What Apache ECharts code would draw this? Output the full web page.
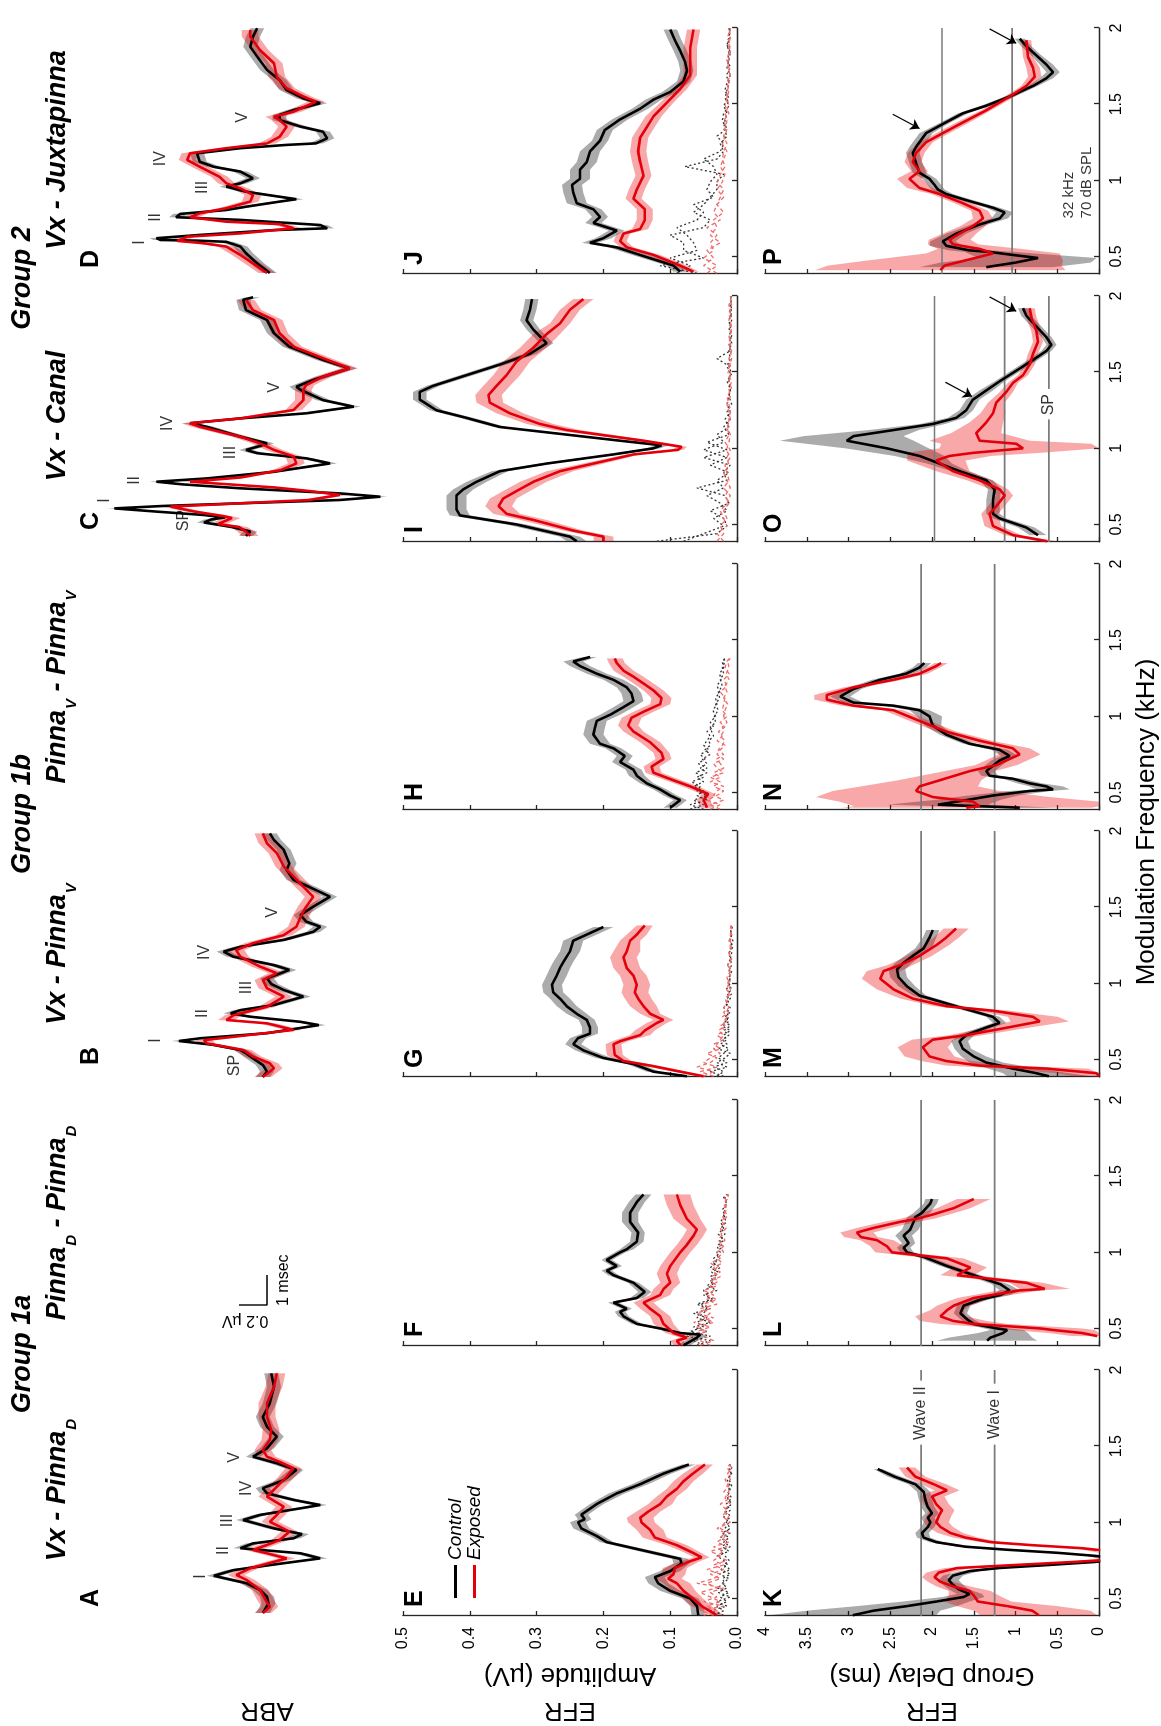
<!DOCTYPE html>
<html>
<head>
<meta charset="utf-8">
<script src="https://cdn.jsdelivr.net/npm/echarts@6/dist/echarts.min.js"></script>
<style>
  html, body { margin: 0; padding: 0; background: #fff; overflow: hidden; }
  #wrap { position: absolute; left: 0; top: 0; width: 1161px; height: 1726px; overflow: hidden; }
  /* the figure is laid out upright (1726 x 1161) and turned a quarter turn counter-clockwise */
  #chart-container { position: absolute; left: 0; top: 0; width: 1726px; height: 1161px;
    transform-origin: 0 0; transform: translate(0px, 1726px) rotate(-90deg); }
</style>
</head>
<body>
<div id="wrap"><div id="chart-container"></div></div>
<script>
// ---------- ABR waveforms: [time (ms), amplitude (uV)] ----------
var ABR_A_CTRL = [[0,.03],[.32,-.01],[.54,0],[.77,.05],[.99,.145],[1.24,.38],[1.43,.24],[1.66,-.12],[1.82,-.38],[1.99,-.24],[2.16,.19],[2.32,.1],[2.49,-.19],[2.63,-.25],[2.82,-.05],[3.1,.17],[3.27,.05],[3.49,-.24],[3.6,-.38],[3.77,-.19],[3.99,0],[4.16,.03],[4.43,-.12],[4.77,-.21],[4.99,-.07],[5.21,.1],[5.49,0],[5.88,-.07],[6.21,0],[6.54,.03],[6.99,-.02],[7.54,-.05],[7.99,-.03]];
var ABR_A_EXP = [[0,.03],[.21,-.02],[.43,.01],[.77,.05],[1.1,.145],[1.27,.22],[1.49,.12],[1.82,-.14],[1.99,0],[2.1,.1],[2.27,0],[2.43,-.09],[2.71,-.16],[2.88,-.09],[3.04,-.02],[3.27,-.07],[3.54,-.12],[3.88,0],[4.21,-.07],[4.54,-.14],[4.82,-.19],[5.04,-.09],[5.21,0],[5.43,.03],[5.77,-.02],[6.1,-.03],[6.54,0],[6.99,0],[7.54,-.05],[7.99,-.07]];
var ABR_B_CTRL = [[0,.03],[.18,0],[.4,.03],[.62,.1],[.79,.15],[.9,.19],[1.07,.38],[1.2,.63],[1.29,.48],[1.46,0],[1.73,-.37],[1.84,-.24],[2.01,.12],[2.12,.26],[2.23,.19],[2.4,-.05],[2.68,-.26],[2.9,-.12],[3.1,-.03],[3.29,0],[3.57,-.16],[3.73,-.05],[4.01,.24],[4.18,.31],[4.34,.19],[4.57,-.12],[4.84,-.33],[5.01,-.38],[5.18,-.28],[5.4,-.24],[5.62,-.31],[6.01,-.45],[6.23,-.35],[6.57,-.19],[6.9,-.14],[7.12,-.16],[7.57,-.12],[7.9,-.05],[8.12,-.02]];
var ABR_B_EXP = [[0,.03],[.29,-.05],[.46,-.02],[.68,.1],[.9,.17],[1.12,.43],[1.23,.45],[1.34,.24],[1.57,-.19],[1.79,0],[1.9,.29],[2.06,.24],[2.34,0],[2.68,-.12],[2.96,0],[3.23,.03],[3.46,-.07],[3.68,.05],[4.01,.19],[4.23,.22],[4.46,.1],[4.73,-.12],[5.01,-.21],[5.34,-.24],[5.68,-.28],[6.01,-.33],[6.34,-.26],[6.68,-.19],[7.01,-.12],[7.46,-.07],[7.79,0],[8.12,.03]];
var ABR_C_CTRL = [[0,.15],[.15,.12],[.3,.25],[.45,.45],[.55,.4],[.62,.3],[.7,.45],[.8,.75],[.92,1.09],[1.0,.75],[1.09,.19],[1.2,-.52],[1.31,-.81],[1.42,-.52],[1.59,.19],[1.72,.6],[1.81,.79],[1.92,.43],[2.14,-.05],[2.42,-.45],[2.59,-.28],[2.76,.07],[2.87,.15],[3.0,.05],[3.09,0],[3.31,.19],[3.64,.43],[3.76,.55],[3.92,.19],[4.09,-.28],[4.31,-.62],[4.53,-.4],[4.87,-.24],[4.98,-.21],[5.2,-.33],[5.59,-.59],[5.87,-.4],[6.31,-.16],[6.76,-.05],[7.2,0],[7.53,.15],[7.87,.17],[7.96,.1]];
var ABR_C_EXP = [[0,.12],[.15,.15],[.3,.2],[.4,.35],[.5,.3],[.6,.25],[.67,.32],[.8,.5],[.98,.69],[1.09,.19],[1.2,-.3],[1.37,-.52],[1.5,-.3],[1.62,-.05],[1.81,.55],[1.95,.19],[2.2,-.1],[2.42,-.21],[2.65,-.19],[2.87,-.05],[3.09,.05],[3.31,.19],[3.64,.48],[3.76,.55],[3.92,.19],[4.2,-.19],[4.53,-.26],[4.87,-.26],[5.03,-.28],[5.31,-.4],[5.59,-.59],[5.87,-.43],[6.31,-.19],[6.76,-.09],[7.2,-.05],[7.53,.1],[7.87,.15]];
var ABR_D_CTRL = [[0,-.02],[.32,.07],[.66,.15],[.88,.19],[1.04,.29],[1.08,.5],[1.1,.76],[1.16,.79],[1.27,.48],[1.43,-.05],[1.49,-.43],[1.6,-.38],[1.77,.19],[1.86,.65],[1.97,.62],[2.1,.29],[2.21,.15],[2.38,-.09],[2.46,-.21],[2.57,-.05],[2.71,.15],[2.88,.29],[2.99,.19],[3.16,.1],[3.38,.19],[3.54,.38],[3.71,.48],[3.99,.5],[4.16,.19],[4.27,-.14],[4.32,-.35],[4.49,-.43],[4.71,-.4],[4.88,-.24],[5.1,-.09],[5.27,-.09],[5.43,-.19],[5.66,-.38],[5.82,-.26],[6.1,-.14],[6.43,-.09],[6.77,0],[7.21,.07],[7.54,.12],[7.88,.1],[8.16,.07]];
var ABR_D_EXP = [[0,0],[.32,.1],[.6,.19],[.88,.29],[.99,.45],[1.07,.64],[1.21,.57],[1.32,.19],[1.49,-.19],[1.63,-.09],[1.71,.29],[1.86,.55],[1.99,.48],[2.16,.29],[2.38,.12],[2.6,.1],[2.82,.19],[2.99,.29],[3.21,.34],[3.54,.48],[3.77,.57],[3.99,.55],[4.16,.29],[4.32,0],[4.54,-.09],[4.88,-.14],[5.1,-.09],[5.21,-.05],[5.38,-.19],[5.71,-.35],[5.88,-.26],[6.16,-.14],[6.54,-.07],[6.99,-.05],[7.43,.05],[7.88,.12],[8.1,.12]];
var ABR_BAND_CTRL = 0.05, ABR_BAND_EXP = 0.06;

// wave labels: [time, amplitude, text]
var ABR_A_LABELS = [[1.23,.47,'I'],[2.1,.31,'II'],[3.1,.28,'III'],[4.17,.14,'IV'],[5.2,.23,'V']];
var ABR_B_LABELS = [[.4,.23,'SP'],[1.23,.79,'I'],[2.13,.46,'II'],[3.0,.14,'III'],[4.17,.44,'IV'],[5.5,-.04,'V']];
var ABR_C_LABELS = [[.53,.59,'SP'],[1.2,1.16,'I'],[1.87,.94,'II'],[2.8,.26,'III'],[3.77,.71,'IV'],[4.97,-.06,'V']];
var ABR_D_LABELS = [[1.03,.91,'I'],[1.87,.79,'II'],[2.87,.46,'III'],[3.83,.76,'IV'],[5.2,.17,'V']];
var SCALE_BAR = { uV: 0.2, ms: 1 };

// ---------- EFR amplitude: [kHz, uV, s.e.] ----------
var AMP_E_CTRL = [[.39,.058,.01],[.45,.06,.01],[.5,.07,.012],[.55,.1,.015],[.6,.118,.015],[.64,.123,.015],[.68,.1,.015],[.73,.083,.012],[.76,.085,.012],[.81,.135,.012],[.87,.195,.01],[.91,.21,.01],[.96,.233,.012],[1.0,.238,.012],[1.02,.228,.01],[1.05,.233,.01],[1.12,.21,.01],[1.19,.18,.012],[1.25,.145,.012],[1.32,.11,.012],[1.38,.072,.01]];
var AMP_E_EXP = [[.39,.03,.01],[.45,.053,.015],[.5,.066,.015],[.55,.08,.018],[.6,.09,.02],[.63,.103,.02],[.66,.095,.018],[.7,.093,.018],[.74,.073,.015],[.77,.053,.012],[.8,.066,.012],[.85,.09,.015],[.9,.123,.018],[.95,.13,.02],[1.0,.143,.02],[1.03,.145,.02],[1.07,.133,.018],[1.12,.115,.018],[1.17,.105,.015],[1.22,.09,.015],[1.27,.08,.015],[1.32,.066,.015],[1.38,.048,.012]];
var AMP_F_CTRL = [[.39,.08,.01],[.44,.06,.01],[.46,.055,.008],[.47,.085,.008],[.5,.115,.008],[.53,.15,.008],[.58,.17,.008],[.61,.175,.008],[.63,.165,.008],[.67,.185,.008],[.7,.15,.01],[.74,.138,.01],[.8,.155,.008],[.85,.185,.008],[.88,.195,.008],[.91,.18,.008],[.95,.195,.008],[1.0,.175,.008],[1.02,.165,.01],[1.07,.15,.01],[1.13,.148,.01],[1.2,.16,.012],[1.26,.16,.012],[1.33,.15,.012],[1.38,.14,.012]];
var AMP_F_EXP = [[.39,.085,.01],[.42,.09,.01],[.44,.075,.01],[.47,.095,.012],[.53,.11,.015],[.58,.115,.015],[.63,.13,.015],[.67,.14,.015],[.72,.115,.015],[.76,.11,.015],[.8,.1,.015],[.86,.105,.015],[.91,.1,.015],[1.0,.085,.015],[1.05,.075,.015],[1.11,.065,.015],[1.15,.06,.015],[1.22,.075,.02],[1.31,.085,.02],[1.38,.09,.02]];
var AMP_G_CTRL = [[.39,.075,.01],[.42,.125,.01],[.47,.155,.01],[.51,.2,.012],[.56,.23,.012],[.6,.245,.012],[.64,.238,.012],[.67,.22,.012],[.71,.22,.012],[.76,.225,.012],[.8,.24,.015],[.85,.255,.015],[.9,.265,.015],[.94,.275,.015],[.99,.277,.015],[1.05,.27,.015],[1.1,.265,.015],[1.14,.26,.015],[1.21,.25,.015],[1.28,.245,.015],[1.32,.225,.015],[1.37,.2,.015]];
var AMP_G_EXP = [[.39,.05,.008],[.42,.085,.01],[.46,.13,.012],[.49,.17,.012],[.53,.183,.012],[.6,.185,.012],[.62,.175,.012],[.66,.145,.015],[.69,.138,.015],[.74,.12,.015],[.76,.11,.015],[.8,.13,.015],[.85,.14,.02],[.9,.148,.02],[.94,.153,.02],[.99,.15,.02],[1.05,.155,.02],[1.1,.165,.02],[1.17,.17,.02],[1.21,.165,.02],[1.28,.16,.015],[1.32,.15,.015],[1.38,.138,.012]];
var AMP_H_CTRL = [[.4,.1,.01],[.45,.085,.01],[.48,.1,.01],[.52,.115,.01],[.56,.135,.01],[.61,.15,.012],[.65,.155,.012],[.7,.175,.012],[.74,.168,.012],[.79,.185,.012],[.82,.205,.015],[.88,.215,.015],[.92,.213,.015],[.97,.21,.015],[1.01,.19,.015],[1.06,.17,.015],[1.1,.155,.015],[1.15,.158,.015],[1.19,.165,.015],[1.24,.185,.015],[1.28,.21,.015],[1.33,.235,.015],[1.36,.245,.015],[1.39,.22,.01]];
var AMP_H_EXP = [[.4,.045,.01],[.45,.05,.01],[.49,.043,.01],[.54,.07,.012],[.58,.095,.012],[.63,.125,.012],[.67,.128,.012],[.72,.11,.012],[.76,.113,.012],[.83,.13,.015],[.9,.155,.015],[.94,.163,.015],[.99,.158,.015],[1.03,.14,.015],[1.08,.115,.015],[1.12,.113,.015],[1.17,.125,.015],[1.21,.138,.015],[1.26,.155,.015],[1.3,.17,.015],[1.35,.18,.012],[1.38,.183,.012]];
var AMP_I_CTRL = [[.39,.24,.015],[.42,.25,.015],[.5,.33,.015],[.56,.415,.015],[.6,.42,.015],[.64,.42,.015],[.69,.42,.015],[.73,.41,.015],[.78,.39,.015],[.85,.355,.012],[.9,.285,.01],[.96,.185,.01],[1.0,.125,.01],[1.02,.113,.01],[1.05,.175,.01],[1.1,.275,.01],[1.14,.355,.01],[1.2,.405,.01],[1.25,.45,.01],[1.32,.475,.01],[1.37,.475,.01],[1.41,.455,.01],[1.48,.405,.01],[1.55,.355,.01],[1.62,.31,.01],[1.69,.285,.01],[1.78,.305,.01],[1.84,.315,.01],[1.91,.31,.01],[1.98,.307,.01]];
var AMP_I_EXP = [[.39,.2,.015],[.42,.2,.015],[.46,.245,.015],[.53,.305,.02],[.57,.345,.02],[.62,.357,.02],[.67,.35,.02],[.72,.33,.02],[.78,.305,.02],[.85,.265,.02],[.91,.205,.015],[.96,.155,.01],[.99,.088,.008],[1.01,.083,.008],[1.05,.14,.012],[1.12,.255,.02],[1.16,.295,.02],[1.23,.34,.02],[1.3,.37,.02],[1.35,.372,.02],[1.41,.36,.02],[1.48,.345,.02],[1.57,.33,.02],[1.66,.305,.02],[1.75,.285,.02],[1.82,.265,.015],[1.91,.25,.015],[1.98,.23,.015]];
var AMP_J_CTRL = [[.4,.085,.01],[.44,.095,.01],[.51,.145,.012],[.56,.18,.012],[.59,.22,.012],[.62,.2,.012],[.67,.18,.012],[.72,.215,.012],[.76,.205,.012],[.81,.215,.012],[.85,.24,.015],[.92,.245,.015],[.97,.247,.015],[1.01,.235,.015],[1.07,.235,.015],[1.12,.225,.015],[1.19,.22,.015],[1.26,.205,.012],[1.33,.198,.012],[1.4,.175,.012],[1.47,.145,.012],[1.53,.125,.012],[1.58,.1,.012],[1.65,.08,.01],[1.72,.075,.01],[1.78,.078,.01],[1.85,.085,.01],[1.92,.093,.01],[1.99,.1,.01]];
var AMP_J_EXP = [[.4,.065,.008],[.44,.085,.01],[.51,.125,.01],[.56,.165,.01],[.6,.175,.01],[.65,.17,.01],[.68,.145,.012],[.74,.138,.012],[.81,.138,.012],[.88,.155,.012],[.94,.15,.012],[1.03,.14,.012],[1.12,.145,.012],[1.19,.148,.012],[1.28,.145,.012],[1.35,.135,.012],[1.42,.125,.012],[1.51,.105,.01],[1.6,.085,.01],[1.69,.07,.01],[1.78,.07,.01],[1.87,.07,.01],[1.99,.065,.01]];

// noise floors (dotted / dashed), two traces per group
var NF_S = [.39,.42,.45,.48,.51,.54,.57,.60,.63,.66,.69,.72,.75,.78,.81,.84,.87,.90,.93,.96,1.00,1.04,1.08,1.12,1.16,1.20,1.24,1.28,1.32,1.36,1.38];
var NF_L = [.39,.44,.49,.54,.59,.64,.69,.74,.79,.84,.89,.94,.99,1.04,1.09,1.14,1.19,1.24,1.29,1.34,1.39,1.44,1.49,1.54,1.59,1.64,1.69,1.74,1.79,1.84,1.89,1.94,2.00];
var E_NOISE_CTRL = [.035,.02,.03,.015,.025,.012,.03,.018,.022,.01,.024,.014,.02,.03,.012,.022,.015,.025,.01,.018,.012,.02,.01,.016,.008,.014,.01,.015,.008,.012,.01];
var E_NOISE_CTRL2 = [.02,.04,.015,.03,.01,.028,.015,.022,.012,.026,.01,.02,.012,.018,.025,.01,.02,.012,.022,.01,.016,.01,.018,.008,.014,.012,.008,.012,.01,.008,.012];
var E_NOISE_EXP = [.05,.03,.045,.025,.04,.055,.03,.045,.025,.04,.02,.035,.015,.03,.02,.035,.012,.025,.018,.03,.01,.022,.015,.025,.01,.02,.012,.018,.008,.015,.01];
var E_NOISE_EXP2 = [.035,.055,.02,.05,.03,.04,.02,.06,.035,.025,.045,.02,.035,.025,.04,.015,.03,.02,.012,.025,.018,.012,.02,.01,.018,.012,.015,.01,.014,.008,.012];
var F_NOISE_CTRL = [.05,.065,.04,.07,.05,.06,.045,.065,.04,.055,.035,.05,.03,.045,.035,.04,.028,.04,.03,.035,.025,.03,.02,.028,.02,.025,.018,.022,.015,.02,.015];
var F_NOISE_CTRL2 = [.06,.04,.075,.045,.065,.04,.06,.05,.045,.06,.04,.045,.05,.035,.04,.03,.038,.025,.035,.028,.03,.022,.026,.018,.024,.016,.02,.018,.016,.018,.014];
var F_NOISE_EXP = [.04,.055,.07,.045,.06,.035,.05,.04,.055,.03,.045,.035,.05,.03,.04,.025,.035,.03,.04,.025,.03,.02,.028,.022,.025,.018,.022,.015,.02,.012,.015];
var F_NOISE_EXP2 = [.055,.035,.05,.06,.04,.065,.035,.06,.04,.05,.03,.045,.035,.04,.028,.038,.025,.035,.022,.03,.02,.026,.018,.024,.016,.022,.014,.02,.016,.018,.012];
var G_NOISE_CTRL = [.03,.02,.035,.015,.028,.02,.012,.025,.015,.02,.01,.022,.012,.018,.01,.02,.012,.015,.008,.016,.01,.012,.008,.014,.01,.012,.006,.01,.008,.01,.008];
var G_NOISE_CTRL2 = [.02,.04,.015,.03,.018,.01,.028,.015,.022,.012,.02,.01,.018,.012,.016,.01,.018,.01,.014,.008,.012,.01,.012,.008,.01,.008,.01,.006,.01,.008,.006];
var G_NOISE_EXP = [.05,.035,.06,.04,.03,.045,.025,.035,.02,.03,.018,.025,.015,.022,.012,.02,.015,.018,.01,.016,.012,.015,.01,.014,.008,.012,.01,.012,.008,.01,.008];
var G_NOISE_EXP2 = [.035,.055,.03,.05,.04,.025,.035,.03,.025,.02,.028,.018,.02,.015,.02,.012,.016,.014,.012,.01,.014,.01,.012,.01,.01,.012,.008,.01,.01,.008,.01];
var H_NOISE_CTRL = [.07,.05,.065,.045,.06,.055,.068,.05,.062,.045,.058,.048,.055,.042,.05,.045,.04,.045,.035,.04,.032,.036,.03,.032,.026,.03,.024,.026,.02,.022,.018];
var H_NOISE_CTRL2 = [.05,.07,.045,.06,.05,.065,.05,.06,.045,.055,.045,.052,.04,.048,.04,.042,.035,.038,.04,.032,.034,.028,.032,.026,.028,.022,.025,.02,.022,.018,.02];
var H_NOISE_EXP = [.04,.025,.045,.03,.02,.035,.025,.04,.02,.03,.035,.02,.03,.025,.018,.03,.022,.028,.018,.025,.015,.022,.02,.018,.025,.015,.02,.012,.018,.015,.012];
var H_NOISE_EXP2 = [.025,.04,.02,.035,.03,.02,.04,.025,.035,.02,.025,.03,.02,.028,.022,.018,.025,.02,.022,.015,.02,.018,.014,.02,.015,.018,.012,.016,.012,.014,.01];
var I_NOISE_CTRL = [.12,.03,.015,.02,.04,.012,.018,.06,.015,.02,.01,.05,.015,.045,.012,.02,.01,.015,.008,.012,.01,.015,.008,.012,.03,.01,.012,.008,.01,.012,.008,.01,.008];
var I_NOISE_CTRL2 = [.08,.05,.02,.035,.015,.025,.045,.02,.03,.012,.04,.015,.05,.02,.03,.012,.018,.01,.015,.012,.01,.012,.01,.015,.01,.012,.008,.01,.012,.008,.01,.008,.01];
var I_NOISE_EXP = [.03,.02,.025,.015,.02,.012,.018,.01,.015,.02,.012,.015,.01,.018,.012,.015,.01,.012,.015,.01,.012,.008,.014,.01,.012,.008,.01,.012,.008,.01,.012,.008,.01];
var I_NOISE_EXP2 = [.02,.03,.015,.02,.025,.015,.01,.02,.012,.015,.018,.01,.016,.012,.01,.014,.012,.01,.012,.015,.008,.012,.01,.012,.008,.01,.012,.01,.008,.012,.01,.012,.008];
var J_NOISE_CTRL = [.06,.115,.05,.08,.08,.1,.05,.04,.065,.05,.04,.03,.03,.02,.078,.03,.02,.025,.015,.02,.018,.015,.02,.012,.018,.015,.01,.015,.012,.01,.015,.01,.012];
var J_NOISE_CTRL2 = [.09,.07,.1,.06,.065,.075,.09,.06,.05,.065,.035,.045,.04,.03,.035,.05,.025,.02,.03,.015,.022,.02,.012,.018,.015,.012,.016,.01,.014,.012,.015,.012,.01];
var J_NOISE_EXP = [.045,.03,.05,.035,.04,.03,.045,.025,.035,.03,.02,.03,.022,.018,.025,.02,.015,.022,.018,.015,.02,.012,.018,.015,.012,.015,.01,.014,.012,.01,.012,.01,.012];
var J_NOISE_EXP2 = [.03,.05,.035,.045,.025,.04,.03,.035,.02,.03,.025,.02,.03,.025,.018,.022,.02,.015,.02,.018,.015,.018,.012,.015,.014,.012,.01,.012,.015,.012,.01,.014,.01];

// ---------- EFR group delay: [kHz, ms, s.e.] ----------
var GD_K_CTRL = [[.39,2.95,1.0],[.42,2.7,.8],[.45,2.3,.6],[.48,1.95,.4],[.51,1.62,.25],[.53,1.55,.15],[.56,1.68,.12],[.59,1.75,.12],[.62,1.8,.12],[.65,1.75,.12],[.68,1.55,.12],[.7,1.2,.12],[.72,.6,.1],[.74,.05,.1],[.76,-.3,.1],[.78,.05,.1],[.8,.5,.1],[.82,1.1,.1],[.84,1.6,.1],[.87,1.95,.08],[.9,2.1,.08],[.93,2.12,.08],[.97,2.05,.08],[1.0,2.02,.08],[1.03,2.05,.08],[1.06,2.0,.08],[1.1,2.05,.08],[1.15,2.08,.08],[1.2,2.1,.08],[1.25,2.2,.08],[1.3,2.45,.08],[1.35,2.65,.05]];
var GD_K_EXP = [[.39,.72,.7],[.42,.8,.7],[.45,1.1,.6],[.48,1.45,.4],[.52,1.5,.3],[.55,1.55,.25],[.58,1.75,.2],[.61,1.9,.15],[.64,1.97,.15],[.67,1.92,.15],[.7,1.7,.15],[.72,1.0,.15],[.74,.3,.1],[.76,-.3,.1],[.8,-.3,.1],[.83,.2,.1],[.85,.8,.1],[.87,1.3,.12],[.9,1.6,.15],[.93,1.78,.15],[.97,1.9,.15],[1.0,1.95,.15],[1.04,1.92,.15],[1.08,1.88,.15],[1.12,1.95,.15],[1.17,2.0,.15],[1.21,1.82,.15],[1.25,1.98,.15],[1.3,2.2,.12],[1.36,2.3,.1]];
var GD_L_CTRL = [[.42,1.34,.6],[.44,1.3,.5],[.47,1.15,.3],[.49,1.1,.2],[.5,1.22,.15],[.53,1.5,.1],[.56,1.58,.08],[.6,1.66,.08],[.65,1.62,.08],[.69,1.42,.1],[.72,1.18,.12],[.75,1.07,.12],[.79,1.18,.1],[.85,1.5,.08],[.91,1.82,.08],[.97,2.1,.08],[1.0,2.3,.08],[1.03,2.34,.08],[1.06,2.28,.08],[1.11,2.34,.1],[1.15,2.26,.1],[1.2,2.22,.1],[1.23,2.2,.1],[1.26,2.12,.1],[1.32,2.02,.08],[1.35,2.0,.08]];
var GD_L_EXP = [[.45,.02,.3],[.47,.2,.4],[.49,.55,.5],[.5,.7,.5],[.53,1.5,.4],[.55,1.75,.4],[.58,1.9,.3],[.62,1.82,.2],[.65,1.74,.2],[.7,1.5,.2],[.75,.95,.25],[.76,.65,.3],[.8,.87,.2],[.85,1.7,.2],[.9,1.54,.2],[.96,1.82,.2],[1.0,2.48,.2],[1.04,2.54,.2],[1.08,2.66,.2],[1.1,2.85,.2],[1.13,2.9,.2],[1.16,2.7,.2],[1.2,2.38,.2],[1.22,2.18,.2],[1.25,1.98,.2],[1.29,1.74,.2],[1.35,1.5,.2]];
var GD_M_CTRL = [[.39,.6,.5],[.41,.75,.4],[.44,1.03,.3],[.48,1.35,.2],[.52,1.5,.15],[.57,1.63,.1],[.62,1.67,.1],[.66,1.59,.1],[.71,1.35,.08],[.74,1.19,.08],[.78,1.27,.08],[.83,1.59,.08],[.88,1.9,.08],[.92,2.15,.08],[.98,2.3,.1],[1.04,2.4,.1],[1.09,2.42,.1],[1.13,2.35,.1],[1.18,2.23,.1],[1.23,2.1,.1],[1.3,2.03,.08],[1.35,1.99,.08]];
var GD_M_EXP = [[.39,0,.3],[.41,.03,.5],[.44,.63,.5],[.46,1.43,.4],[.49,1.83,.3],[.52,2.03,.3],[.58,2.11,.3],[.63,1.99,.25],[.66,1.59,.2],[.7,1.19,.25],[.75,.71,.35],[.78,.79,.3],[.82,1.27,.2],[.85,1.83,.15],[.9,2.23,.15],[.96,2.46,.2],[1.03,2.62,.22],[1.08,2.58,.2],[1.12,2.38,.15],[1.18,2.15,.15],[1.25,1.95,.15],[1.3,1.83,.15],[1.36,1.71,.15]];
var GD_N_CTRL = [[.4,.95,.4],[.42,1.93,.6],[.45,1.59,.4],[.48,1.27,.3],[.51,.83,.25],[.52,.55,.2],[.54,.63,.2],[.56,.83,.15],[.59,1.03,.12],[.61,1.31,.1],[.64,1.35,.1],[.71,1.19,.1],[.74,1.07,.1],[.78,1.19,.1],[.82,1.55,.08],[.88,1.83,.08],[.94,1.99,.1],[1.0,2.03,.15],[1.04,2.15,.12],[1.07,2.46,.12],[1.09,2.94,.12],[1.13,3.1,.12],[1.18,2.94,.1],[1.24,2.62,.1],[1.28,2.31,.08],[1.32,2.15,.08],[1.35,2.09,.08]];
var GD_N_EXP = [[.4,1.59,1.5],[.41,1.43,1.5],[.44,1.51,1.6],[.47,1.99,1.4],[.51,2.19,1.0],[.54,2.15,.7],[.58,1.91,.5],[.64,1.55,.3],[.68,1.23,.25],[.75,.95,.25],[.79,1.03,.2],[.84,1.43,.15],[.9,1.83,.12],[.97,2.15,.12],[1.04,2.46,.12],[1.07,2.94,.15],[1.11,3.26,.15],[1.14,3.26,.15],[1.19,2.94,.12],[1.24,2.46,.1],[1.28,2.15,.1],[1.33,1.95,.08],[1.35,1.89,.08]];
var GD_O_CTRL = [[.43,.73,.1],[.48,.87,.1],[.54,1.19,.08],[.57,1.27,.08],[.66,1.27,.08],[.73,1.25,.08],[.79,1.35,.08],[.85,1.67,.1],[.9,1.91,.15],[.95,2.15,.3],[1.0,2.54,.5],[1.05,3.02,.8],[1.08,2.94,.6],[1.12,2.46,.3],[1.16,1.99,.15],[1.2,1.71,.1],[1.25,1.59,.08],[1.32,1.51,.08],[1.38,1.35,.08],[1.44,1.19,.06],[1.51,.99,.06],[1.58,.79,.06],[1.64,.63,.06],[1.68,.57,.06],[1.73,.63,.06],[1.8,.75,.06],[1.87,.87,.06],[1.92,.91,.06]];
var GD_O_EXP = [[.39,.62,.1],[.43,1.03,.1],[.49,1.27,.1],[.57,1.31,.1],[.62,1.23,.1],[.69,1.13,.1],[.73,1.19,.1],[.79,1.43,.15],[.85,1.75,.2],[.92,1.95,.35],[.95,1.79,.5],[.97,1.51,.8],[1.0,.91,1.0],[1.03,.99,.9],[1.05,1.43,.6],[1.1,1.47,.3],[1.17,1.35,.2],[1.23,1.27,.15],[1.3,1.23,.1],[1.37,1.11,.08],[1.43,1.03,.06],[1.48,.91,.06],[1.55,.83,.06],[1.62,.79,.06],[1.7,.73,.06],[1.77,.75,.06],[1.86,.81,.06],[1.92,.83,.06]];
var GD_P_CTRL = [[.43,1.35,.8],[.46,1.0,.9],[.49,.73,.7],[.51,1.03,.5],[.53,1.31,.3],[.54,1.55,.25],[.57,1.83,.2],[.6,1.87,.15],[.65,1.71,.12],[.71,1.43,.1],[.75,1.19,.1],[.79,1.13,.1],[.82,1.27,.08],[.87,1.59,.08],[.91,1.83,.08],[.94,1.93,.08],[.97,1.97,.08],[1.01,2.03,.08],[1.05,2.15,.08],[1.11,2.19,.08],[1.18,2.23,.08],[1.22,2.19,.08],[1.31,2.07,.08],[1.37,1.87,.06],[1.44,1.63,.06],[1.49,1.35,.06],[1.55,1.07,.06],[1.62,.79,.06],[1.67,.63,.08],[1.71,.55,.08],[1.76,.63,.08],[1.82,.75,.06],[1.88,.87,.06],[1.93,.95,.06]];
var GD_P_EXP = [[.41,1.9,1.5],[.44,1.85,1.4],[.47,1.63,1.2],[.52,1.27,.8],[.55,1.43,.5],[.58,1.75,.3],[.61,1.79,.25],[.65,1.67,.2],[.7,1.51,.15],[.75,1.39,.12],[.8,1.43,.1],[.85,1.63,.1],[.91,1.91,.1],[.95,2.15,.15],[1.01,2.27,.15],[1.06,2.15,.1],[1.12,2.23,.1],[1.18,2.19,.1],[1.25,2.07,.08],[1.31,1.87,.08],[1.38,1.63,.08],[1.46,1.35,.06],[1.55,1.07,.06],[1.62,.87,.06],[1.68,.77,.08],[1.74,.79,.08],[1.81,.85,.06],[1.92,.87,.06]];

// reference latencies: [ms, label, gap start kHz, gap end kHz]
var REF_K = [[2.13,'Wave II',1.51,1.93],[1.25,'Wave I',1.51,1.91]];
var REF_L = [[2.13],[1.25]];
var REF_M = [[2.13],[1.25]];
var REF_N = [[2.13],[1.25]];
var REF_O = [[1.97],[1.13],[0.6,'SP',1.19,1.39]];
var REF_P = [[1.88],[1.04]];
// arrow tips [kHz, ms]
var ARROWS_O = [[1.34,1.52],[1.9,0.99]];
var ARROWS_P = [[1.34,2.15],[1.9,0.99]];
var ARROW_TAIL = [0.094, 0.32];
var P_NOTE = [0.753, 0.25, '32 kHz\n70 dB SPL'];

var FREQ_TICKS = [0.5, 1, 1.5, 2];

// ---------- layout ----------
var FONT = '"Liberation Sans", Arial, Helvetica, sans-serif';
var FMIN = 0.385, FMAX = 2;
var COL_LEFT = [110, 380, 649, 916, 1184, 1452], COL_W = 246;
var ABR_LEFT = [113, 649, 1190, 1453];
var ABR_TOP = 85, ABR_H = 322, AMP_TOP = 403, AMP_H = 334, GD_TOP = 765, GD_H = 334;
var AXIS = '#262626', RED = '#e3000b';
var BAND_K = 'rgba(0,0,0,0.33)', BAND_R = 'rgba(235,0,0,0.34)';

var dom = document.getElementById('chart-container');
var myChart = echarts.init(dom, null, { renderer: 'canvas', width: 1726, height: 1161 });

var grids = [], xAxes = [], yAxes = [], series = [], graphics = [];

function addGrid(left, top, w, h, xa, ya) {
  var gi = grids.length;
  grids.push({ left: left, top: top, width: w, height: h });
  xa.gridIndex = gi; ya.gridIndex = gi;
  xAxes.push(xa); yAxes.push(ya);
  return gi;
}

function hiddenAxis(min, max) {
  return { type: 'value', min: min, max: max, show: false, splitLine: { show: false } };
}

function freqAxis(showLabels) {
  return {
    type: 'value', min: FMIN, max: FMAX, position: 'bottom',
    axisLine: { show: true, onZero: false, lineStyle: { color: AXIS, width: 1.3 } },
    axisTick: { show: true, inside: true, length: 5, customValues: FREQ_TICKS, lineStyle: { color: AXIS, width: 1.3 } },
    axisLabel: { show: showLabels, customValues: FREQ_TICKS, margin: 10, fontSize: 16, fontFamily: FONT, color: '#000',
      formatter: function (v) { return String(v); } },
    splitLine: { show: false }
  };
}

function valAxis(max, interval, showLabels, fmt) {
  return {
    type: 'value', min: 0, max: max, interval: interval,
    axisLine: { show: true, onZero: false, lineStyle: { color: AXIS, width: 1.3 } },
    axisTick: { show: true, inside: true, length: 5, lineStyle: { color: AXIS, width: 1.3 } },
    axisLabel: { show: showLabels, margin: 11, fontSize: 16, fontFamily: FONT, color: '#000', formatter: fmt },
    splitLine: { show: false }
  };
}

function clampTo(v, lo, hi) { return Math.max(lo, Math.min(hi, v)); }

function band(gi, pts, color, lo, hi, errConst) {
  return {
    type: 'custom', xAxisIndex: gi, yAxisIndex: gi, data: [[1, 0.1]], silent: true, z: 2,
    renderItem: function (params, api) {
      var up = [], dn = [];
      pts.forEach(function (p) {
        var e = errConst != null ? errConst : p[2];
        up.push(api.coord([p[0], clampTo(p[1] + e, lo, hi)]));
        dn.push(api.coord([p[0], clampTo(p[1] - e, lo, hi)]));
      });
      return { type: 'polygon', shape: { points: up.concat(dn.reverse()) }, style: { fill: color } };
    }
  };
}

function trace(gi, pts, color, name, z) {
  return {
    type: 'line', name: name, xAxisIndex: gi, yAxisIndex: gi, z: z || 5, silent: true,
    data: pts.map(function (p) { return [p[0], p[1]]; }),
    symbol: 'none', showSymbol: false, clip: true,
    lineStyle: { color: color, width: 2.6 }, itemStyle: { color: color }
  };
}

function noise(gi, fs, vals, color, dash) {
  return {
    type: 'line', xAxisIndex: gi, yAxisIndex: gi, z: 3, silent: true,
    data: fs.map(function (f, i) { return [f, vals[i]]; }),
    symbol: 'none', lineStyle: { color: color, width: 1.3, type: dash }
  };
}

function textPoints(gi, items, size, align) {
  return {
    type: 'scatter', xAxisIndex: gi, yAxisIndex: gi, z: 6, silent: true, symbolSize: 1,
    itemStyle: { color: 'rgba(0,0,0,0)' },
    data: items.map(function (it) { return { value: [it[0], it[1]], name: it[2] }; }),
    label: { show: true, position: [0, 0], align: align || 'center', verticalAlign: 'middle',
      formatter: '{b}', fontSize: size || 16, lineHeight: 18, fontFamily: FONT, color: '#000' }
  };
}

function gtext(x, y, text, font, opts) {
  opts = opts || {};
  var st = { text: text, font: font, fill: '#000',
    align: opts.align || 'center', verticalAlign: opts.valign || 'middle',
    textAlign: opts.align || 'center', textVerticalAlign: opts.valign || 'middle' };
  if (opts.rich) st.rich = opts.rich;
  return { type: 'text', x: x, y: y, rotation: opts.rot || 0, silent: true, z: 10, style: st };
}

// ---------- ABR row ----------
var ABR_PANELS = [
  { letter: 'A', ctrl: ABR_A_CTRL, exp: ABR_A_EXP, labels: ABR_A_LABELS },
  { letter: 'B', ctrl: ABR_B_CTRL, exp: ABR_B_EXP, labels: ABR_B_LABELS },
  { letter: 'C', ctrl: ABR_C_CTRL, exp: ABR_C_EXP, labels: ABR_C_LABELS },
  { letter: 'D', ctrl: ABR_D_CTRL, exp: ABR_D_EXP, labels: ABR_D_LABELS }
];
var ABR_LETTER_X = [119, 661, 1196, 1458];
ABR_PANELS.forEach(function (p, i) {
  var gi = addGrid(ABR_LEFT[i], ABR_TOP, COL_W, ABR_H, hiddenAxis(0, 8.2), hiddenAxis(-1, 1.3));
  series.push(band(gi, p.ctrl, BAND_K, -1, 1.3, ABR_BAND_CTRL));
  series.push(band(gi, p.exp, BAND_R, -1, 1.3, ABR_BAND_EXP));
  series.push(trace(gi, p.ctrl, '#000', 'Control', 5));
  series.push(trace(gi, p.exp, RED, 'Exposed', 6));
  series.push(textPoints(gi, p.labels, 16));
  graphics.push(gtext(ABR_LETTER_X[i], 91, p.letter, 'bold 25px ' + FONT, { align: 'left' }));
});

// scale bar (same scale as the ABR panels)
var gs = addGrid(421, ABR_TOP, COL_W, ABR_H, hiddenAxis(0, 8.2), hiddenAxis(-1, 1.3));
series.push({ type: 'line', xAxisIndex: gs, yAxisIndex: gs, silent: true, symbol: 'none',
  data: [[0, SCALE_BAR.uV], [0, 0], [SCALE_BAR.ms, 0]], lineStyle: { color: '#000', width: 1.4 } });
graphics.push(gtext(420, 276, '1 msec', '16px ' + FONT, { align: 'left', valign: 'top' }));
graphics.push(gtext(406, 245, '0.2 \u00b5V', '16px ' + FONT, { rot: Math.PI / 2 }));

// ---------- EFR amplitude row ----------
var AMP_PANELS = [
  { letter: 'E', ctrl: AMP_E_CTRL, exp: AMP_E_EXP, nf: NF_S, nc: [E_NOISE_CTRL, E_NOISE_CTRL2], ne: [E_NOISE_EXP, E_NOISE_EXP2] },
  { letter: 'F', ctrl: AMP_F_CTRL, exp: AMP_F_EXP, nf: NF_S, nc: [F_NOISE_CTRL, F_NOISE_CTRL2], ne: [F_NOISE_EXP, F_NOISE_EXP2] },
  { letter: 'G', ctrl: AMP_G_CTRL, exp: AMP_G_EXP, nf: NF_S, nc: [G_NOISE_CTRL, G_NOISE_CTRL2], ne: [G_NOISE_EXP, G_NOISE_EXP2] },
  { letter: 'H', ctrl: AMP_H_CTRL, exp: AMP_H_EXP, nf: NF_S, nc: [H_NOISE_CTRL, H_NOISE_CTRL2], ne: [H_NOISE_EXP, H_NOISE_EXP2] },
  { letter: 'I', ctrl: AMP_I_CTRL, exp: AMP_I_EXP, nf: NF_L, nc: [I_NOISE_CTRL, I_NOISE_CTRL2], ne: [I_NOISE_EXP, I_NOISE_EXP2] },
  { letter: 'J', ctrl: AMP_J_CTRL, exp: AMP_J_EXP, nf: NF_L, nc: [J_NOISE_CTRL, J_NOISE_CTRL2], ne: [J_NOISE_EXP, J_NOISE_EXP2] }
];
AMP_PANELS.forEach(function (p, i) {
  var gi = addGrid(COL_LEFT[i], AMP_TOP, COL_W, AMP_H, freqAxis(false),
    valAxis(0.5, 0.1, i === 0, function (v) { return v.toFixed(1); }));
  series.push(band(gi, p.ctrl, BAND_K, 0, 0.5));
  series.push(band(gi, p.exp, BAND_R, 0, 0.5));
  p.nc.forEach(function (vals) { series.push(noise(gi, p.nf, vals, '#333', [2, 2.5])); });
  p.ne.forEach(function (vals) { series.push(noise(gi, p.nf, vals, '#f06a6a', [4, 3])); });
  series.push(trace(gi, p.ctrl, '#000', 'Control', 5));
  series.push(trace(gi, p.exp, RED, 'Exposed', 6));
  graphics.push(gtext(COL_LEFT[i] + 9, 415, p.letter, 'bold 25px ' + FONT, { align: 'left' }));
});

// ---------- EFR group delay row ----------
var GD_PANELS = [
  { letter: 'K', ctrl: GD_K_CTRL, exp: GD_K_EXP, refs: REF_K },
  { letter: 'L', ctrl: GD_L_CTRL, exp: GD_L_EXP, refs: REF_L },
  { letter: 'M', ctrl: GD_M_CTRL, exp: GD_M_EXP, refs: REF_M },
  { letter: 'N', ctrl: GD_N_CTRL, exp: GD_N_EXP, refs: REF_N },
  { letter: 'O', ctrl: GD_O_CTRL, exp: GD_O_EXP, refs: REF_O, arrows: ARROWS_O },
  { letter: 'P', ctrl: GD_P_CTRL, exp: GD_P_EXP, refs: REF_P, arrows: ARROWS_P, note: P_NOTE }
];
GD_PANELS.forEach(function (p, i) {
  var gi = addGrid(COL_LEFT[i], GD_TOP, COL_W, GD_H, freqAxis(true), valAxis(4, 0.5, i === 0));
  // reference latency lines
  var labels = [];
  p.refs.forEach(function (r) {
    var segs = r.length > 1 ? [[FMIN, r[2]], [r[3], FMAX]] : [[FMIN, FMAX]];
    segs.forEach(function (s) {
      series.push({ type: 'line', xAxisIndex: gi, yAxisIndex: gi, z: 3, silent: true, symbol: 'none',
        data: [[s[0], r[0]], [s[1], r[0]]], lineStyle: { color: '#7a7a7a', width: 1.6 } });
    });
    if (r.length > 1) labels.push([(r[2] + r[3]) / 2, r[0], r[1]]);
  });
  series.push(band(gi, p.ctrl, BAND_K, 0, 4));
  series.push(band(gi, p.exp, BAND_R, 0, 4));
  series.push(trace(gi, p.ctrl, '#000', 'Control', 5));
  series.push(trace(gi, p.exp, RED, 'Exposed', 6));
  if (labels.length) series.push(textPoints(gi, labels, 16));
  if (p.arrows) {
    series.push({ type: 'lines', coordinateSystem: 'cartesian2d', xAxisIndex: gi, yAxisIndex: gi, z: 7, silent: true,
      symbol: ['none', 'arrow'], symbolSize: 9,
      lineStyle: { color: '#000', width: 1.2, opacity: 1 },
      data: p.arrows.map(function (a) {
        return { coords: [[a[0] + ARROW_TAIL[0], a[1] + ARROW_TAIL[1]], [a[0], a[1]]] };
      }) });
  }
  if (p.note) series.push(textPoints(gi, [p.note], 15, 'left'));
  graphics.push(gtext(COL_LEFT[i] + 9, 774, p.letter, 'bold 25px ' + FONT, { align: 'left' }));
});

// ---------- titles and axis names ----------
var TITLE_M = { fontFamily: FONT, fontSize: 27, fontWeight: 'bold', fontStyle: 'italic', lineHeight: 30 };
var TITLE_S = { fontFamily: FONT, fontSize: 15, fontWeight: 'bold', fontStyle: 'italic', lineHeight: 15, padding: [27, 0, 0, 1] };
var RICH = { m: TITLE_M, s: TITLE_S };
var TITLES = [
  [236, '{m|Vx - Pinna}{s|D}'],
  [503, '{m|Pinna}{s|D}{m| - Pinna}{s|D}'],
  [772, '{m|Vx - Pinna}{s|V}'],
  [1039, '{m|Pinna}{s|V}{m| - Pinna}{s|V}'],
  [1310, '{m|Vx - Canal}'],
  [1576, '{m|Vx - Juxtapinna}']
];
TITLES.forEach(function (t) {
  graphics.push(gtext(t[0], 58, t[1], 'bold italic 27px ' + FONT, { rich: RICH }));
});
var GROUPS = [[372, 'Group 1a'], [912, 'Group 1b'], [1448, 'Group 2']];
GROUPS.forEach(function (g) {
  graphics.push(gtext(g[0], 23, g[1], 'italic bold 27px ' + FONT));
});
graphics.push(gtext(16, 267, 'ABR', '26px ' + FONT, { rot: Math.PI / 2 }));
graphics.push(gtext(16, 570, 'EFR', '26px ' + FONT, { rot: Math.PI / 2 }));
graphics.push(gtext(16, 932, 'EFR', '26px ' + FONT, { rot: Math.PI / 2 }));
graphics.push(gtext(51, 570, 'Amplitude (\u00b5V)', '26px ' + FONT, { rot: Math.PI / 2 }));
graphics.push(gtext(51, 932, 'Group Delay (ms)', '26px ' + FONT, { rot: Math.PI / 2 }));
graphics.push(gtext(904, 1147, 'Modulation Frequency (kHz)', '26px ' + FONT));

var option = {
  animation: false,
  backgroundColor: '#fff',
  grid: grids,
  xAxis: xAxes,
  yAxis: yAxes,
  legend: {
    data: [{ name: 'Control', icon: 'rect' }, { name: 'Exposed', icon: 'rect' }],
    orient: 'vertical', left: 128, top: 446, padding: 0, itemGap: 0,
    itemWidth: 33, itemHeight: 3, selectedMode: false,
    textStyle: { fontFamily: FONT, fontStyle: 'italic', fontSize: 19, lineHeight: 18, color: '#000' }
  },
  graphic: graphics,
  series: series
};

if (option && typeof option === 'object') {
  myChart.setOption(option);
}
</script>
</body>
</html>
